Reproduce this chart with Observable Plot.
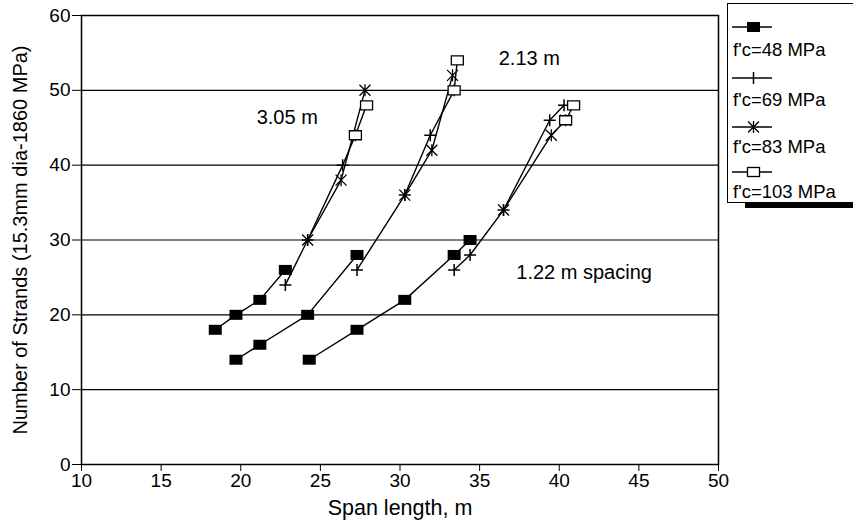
<!DOCTYPE html>
<html><head><meta charset="utf-8">
<script src="https://cdn.jsdelivr.net/npm/d3@7"></script>
<script src="https://cdn.jsdelivr.net/npm/@observablehq/plot@0.6"></script>
<style>
body{margin:0;background:#fff;font-family:"Liberation Sans",Arial,sans-serif;}
#wrap{position:relative;width:853px;height:522px;overflow:hidden}
#legend{position:absolute;left:727px;top:3px;width:140px;height:198px;border:1.5px solid #000;background:#fff}
#shadow{position:absolute;left:745px;top:202px;width:110px;height:6px;background:#000}
.li{position:absolute;left:0;width:140px;height:16px}
.li svg{position:absolute;left:2px;top:0}
.lt{position:absolute;left:5px;font-size:18.5px;line-height:21px;white-space:nowrap;color:#000}
</style></head>
<body><div id="wrap"><div id="chart"></div><div id="legend"></div><div id="shadow"></div></div>
<script>
const xTicks = [10,15,20,25,30,35,40,45,50];
const yTicks = [0,10,20,30,40,50,60];
const seriesNames = ["f'c=48 MPa","f'c=69 MPa","f'c=83 MPa","f'c=103 MPa"];

// spacing 3.05 m
const fc48_305  = [[18.4,18],[19.7,20],[21.2,22],[22.8,26]];
const fc69_305  = [[22.8,24],[24.2,30],[26.4,40],[27.2,44]];
const fc83_305  = [[24.2,30],[26.3,38],[27.8,50]];
const fc103_305 = [[27.2,44],[27.9,48]];
// spacing 2.13 m
const fc48_213  = [[19.7,14],[21.2,16],[24.2,20],[27.3,28]];
const fc69_213  = [[27.3,26],[30.3,36],[31.9,44],[33.4,50]];
const fc83_213  = [[30.3,36],[32.0,42],[33.3,52]];
const fc103_213 = [[33.4,50],[33.6,54]];
// spacing 1.22 m
const fc48_122  = [[24.3,14],[27.3,18],[30.3,22],[33.4,28],[34.4,30]];
const fc69_122  = [[33.4,26],[34.4,28],[36.5,34],[39.4,46],[40.3,48]];
const fc83_122  = [[36.5,34],[39.5,44],[40.4,46]];
const fc103_122 = [[40.4,46],[40.9,48]];

const labelText = ["3.05 m","2.13 m","1.22 m spacing"];
const labelX = [21.0,36.2,37.3];
const labelY = [46.4,54.3,25.6];

const groups = [
  ["3.05",[fc48_305,fc69_305,fc83_305,fc103_305]],
  ["2.13",[fc48_213,fc69_213,fc83_213,fc103_213]],
  ["1.22",[fc48_122,fc69_122,fc83_122,fc103_122]]
];
const rows = [];
for (const [g, arrs] of groups) arrs.forEach((arr, i) => arr.forEach(([x,y]) => rows.push({g, s: seriesNames[i], x, y})));
const bySeries = s => rows.filter(d => d.s === s);

const symRect = {draw(c){ c.rect(-6.5,-5,13,10); }};
const symRectOpen = {draw(c){ c.rect(-6,-4.5,12,9); }};
const symPlus = {draw(c){ c.moveTo(-6,0); c.lineTo(6,0); c.moveTo(0,-6); c.lineTo(0,6); }};
const symStar = {draw(c){ c.moveTo(-5.5,-5.5); c.lineTo(5.5,5.5); c.moveTo(-5.5,5.5); c.lineTo(5.5,-5.5); c.moveTo(0,-6); c.lineTo(0,6); }};

const labels = labelText.map((t,i)=>({t, x: labelX[i], y: labelY[i]}));
const FONT = '"Liberation Sans", Arial, sans-serif';

const chart = Plot.plot({
  width: 853, height: 522,
  marginLeft: 81, marginRight: 135, marginTop: 15, marginBottom: 58,
  style: {fontFamily: FONT, color: "#000", background: "#fff"},
  x: {domain: [10,50]},
  y: {domain: [0,60]},
  marks: [
    Plot.ruleY(yTicks, {stroke: "#000", strokeWidth: 1.2}),
    Plot.frame({stroke: "#000", strokeWidth: 1.5}),
    Plot.axisX({ticks: xTicks, tickSize: 7, tickPadding: 2, fontSize: 19, label: null}),
    Plot.axisY({ticks: yTicks, tickSize: 9, tickPadding: 2, fontSize: 19, label: null}),
    Plot.axisX({ticks: [], tickSize: 0, label: "Span length, m", labelAnchor: "center", labelArrow: "none", labelOffset: 50, fontSize: 21.5}),
    Plot.axisY({ticks: [], tickSize: 0, label: "Number of Strands (15.3mm dia-1860 MPa)", labelAnchor: "center", labelArrow: "none", labelOffset: 69, fontSize: 20}),
    Plot.line(rows, {x: "x", y: "y", z: d => d.g + d.s, stroke: "#000", strokeWidth: 1.4}),
    Plot.dot(bySeries(seriesNames[0]), {x: "x", y: "y", symbol: symRect, fill: "#000", stroke: "none"}),
    Plot.dot(bySeries(seriesNames[1]), {x: "x", y: "y", symbol: symPlus, fill: "none", stroke: "#000", strokeWidth: 1.5}),
    Plot.dot(bySeries(seriesNames[2]), {x: "x", y: "y", symbol: symStar, fill: "none", stroke: "#000", strokeWidth: 1.3}),
    Plot.dot(bySeries(seriesNames[3]), {x: "x", y: "y", symbol: symRectOpen, fill: "#fff", stroke: "#000", strokeWidth: 1.3}),
    Plot.text(labels, {x: "x", y: "y", text: "t", textAnchor: "start", fontSize: 20, fill: "#000"})
  ]
});
document.getElementById("chart").appendChild(chart);

// legend
const leg = document.getElementById("legend");
const legSym = [
  '<rect x="17" y="2" width="13" height="10" fill="#000"/>',
  '<path d="M23.5,1V13" stroke="#000" stroke-width="1.5"/>',
  '<path d="M18,1.5L29,12.5M18,12.5L29,1.5M23.5,1V13" stroke="#000" stroke-width="1.3" fill="none"/>',
  '<rect x="17.5" y="2.5" width="12" height="9" fill="#fff" stroke="#000" stroke-width="1.3"/>'
];
const symCenter = [27, 78, 127, 172];
const textCenter = [50, 100, 147, 192];
seriesNames.forEach((s,i) => {
  const d = document.createElement("div");
  d.className = "li";
  d.style.top = (symCenter[i] - 11.5) + "px";
  d.innerHTML = `<svg width="45" height="14"><path d="M2,7H42" stroke="#000" stroke-width="1.4"/>${legSym[i]}</svg>`;
  leg.appendChild(d);
  const t = document.createElement("div");
  t.className = "lt";
  t.style.top = (textCenter[i] - 15) + "px";
  t.textContent = s;
  leg.appendChild(t);
});
</script></body></html>
